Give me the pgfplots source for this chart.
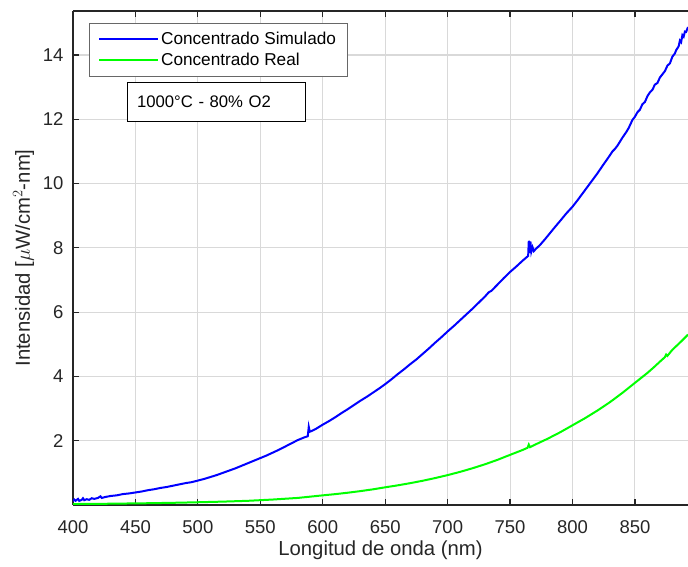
\documentclass[border=0pt]{standalone}
\usepackage{pgfplots}
\pgfplotsset{compat=1.18}
\usepackage{fontspec}
\setmainfont{Liberation Sans}
\definecolor{axgray}{gray}{0.15}
\definecolor{gridgray}{gray}{0.85}
\definecolor{mblue}{rgb}{0,0,1}
\definecolor{mgreen}{rgb}{0,1,0}
\begin{document}
\begin{tikzpicture}
\begin{axis}[
  at={(73pt,62pt)}, anchor=south west,
  scale only axis, width=615pt, height=494pt,
  xmin=400, xmax=892.5, ymin=0, ymax=15.37,
  xtick={400,450,...,850}, ytick={2,4,...,14},
  axis x line*=box, axis y line*=left,
  tick align=inside, major tick length=6pt,
  every tick/.style={axgray, line width=1.2pt},
  axis line style={axgray, line width=1.2pt},
  grid=major, major grid style={gridgray, line width=1.1pt},
  /pgf/number format/assume math mode=true,
  /pgf/number format/1000 sep={},
  ticklabel style={font=\fontsize{18.5}{22}\selectfont, text=axgray},
  xticklabel style={yshift=-12pt},
  yticklabel style={xshift=-6pt},
  xlabel={Longitud de onda (nm)},
  ylabel={Intensidad [$\mu$W/cm$^2$-nm]},
  label style={font=\fontsize{20.3}{24}\selectfont, text=axgray},
  xlabel style={yshift=0pt},
  ylabel style={yshift=2pt},
  legend style={at={(axis description cs:0.0255,0.976)}, anchor=north west,
    draw=axgray!70, line width=0.8pt, fill=white,
    font=\fontsize{17.2}{20}\selectfont, inner xsep=9pt, inner ysep=7pt,
    row sep=3pt},
  legend cell align=left,
  legend image code/.code={\draw[#1] (0pt,0pt) -- (59pt,0pt);},
]
\addplot[color=mblue, line width=2pt] coordinates {
(400,0.12) (401,0.17) (402,0.13) (404,0.19) (405,0.13) (407,0.16) (408,0.21) (409,0.15)
(411,0.18) (413,0.16) (415,0.21) (417,0.19) (420,0.22) (422,0.27) (423,0.22) (426,0.25)
(430,0.28) (435,0.30) (440,0.34) (445,0.36) (450,0.39) (455,0.42) (460,0.46) (465,0.49)
(470,0.53) (475,0.56) (480,0.60) (485,0.64) (490,0.68) (495,0.71) (500,0.76) (505,0.81)
(510,0.87) (515,0.93) (520,1.00) (525,1.07) (530,1.14) (535,1.22) (540,1.30) (545,1.38)
(550,1.46) (555,1.54) (560,1.63) (565,1.72) (570,1.82) (575,1.92) (580,2.02) (585,2.10)
(588,2.14) (588.8,2.43) (589.6,2.28) (591,2.30) (595,2.38) (600,2.50) (605,2.61)
(610,2.73) (615,2.86) (620,2.98) (625,3.11) (630,3.24) (635,3.36) (640,3.49) (645,3.62)
(650,3.76) (655,3.91) (660,4.07) (665,4.22) (670,4.38) (675,4.53) (680,4.70) (685,4.87)
(690,5.05) (695,5.22) (700,5.40) (705,5.57) (710,5.75) (715,5.93) (720,6.11) (725,6.30)
(730,6.49) (733,6.62) (735,6.66) (738,6.78) (740,6.86) (745,7.06) (750,7.25) (755,7.42)
(760,7.60) (763,7.70) (764.5,7.75) (765,8.22) (765.6,7.85) (766.3,8.20) (767,7.88)
(768,8.02) (769,7.90) (771,7.98) (774,8.09) (778,8.27) (782,8.46) (786,8.65) (791,8.88)
(795,9.07) (800,9.28) (804,9.48) (808,9.69) (812,9.90) (816,10.11) (820,10.32)
(824,10.55) (828,10.77) (832,11.00) (834,11.08) (836,11.18) (840,11.43) (843,11.60)
(845,11.73) (848,11.98) (850,12.08) (852,12.22) (854,12.30) (856,12.47) (858,12.54)
(860,12.72) (862,12.84) (864,12.92) (866,13.08) (868,13.13) (870,13.30) (872,13.40)
(874,13.50) (876,13.67) (878,13.74) (880,13.95) (882,14.05) (883,14.15) (885,14.27)
(886,14.45) (887,14.40) (888,14.62) (889,14.57) (890,14.73) (891,14.72) (892.5,14.87)
};
\addlegendentry{Concentrado Simulado}
\addplot[color=mgreen, line width=2pt] coordinates {
(400,0.03) (420,0.035) (440,0.045) (460,0.055) (480,0.068) (500,0.085) (520,0.105)
(540,0.13) (560,0.17) (580,0.22) (590,0.26) (600,0.30) (610,0.338) (620,0.382)
(630,0.431) (640,0.486) (650,0.55) (660,0.611) (670,0.679) (680,0.754) (690,0.838)
(700,0.93) (710,1.031) (720,1.144) (730,1.268) (740,1.406) (750,1.56) (760,1.711)
(764,1.78) (765,1.88) (766,1.80) (770,1.877) (780,2.06) (790,2.26) (800,2.48)
(810,2.70) (820,2.94) (830,3.20) (840,3.49) (850,3.80) (860,4.11) (865,4.28)
(870,4.46) (874,4.60) (875,4.68) (876,4.64) (880,4.83) (886,5.05) (892.5,5.30)
};
\addlegendentry{Concentrado Real}
\end{axis}
\node[draw=black, line width=0.8pt, fill=white, anchor=north west, inner xsep=10pt, inner ysep=0pt,
  text width=158pt, minimum height=39pt, align=left,
  font=\fontsize{16.7}{20}\selectfont] at (126.7pt,485pt) {1000°C - 80\% O2};
\pgfresetboundingbox
\useasboundingbox (0,0) rectangle (688pt,567pt);
\end{tikzpicture}
\end{document}
